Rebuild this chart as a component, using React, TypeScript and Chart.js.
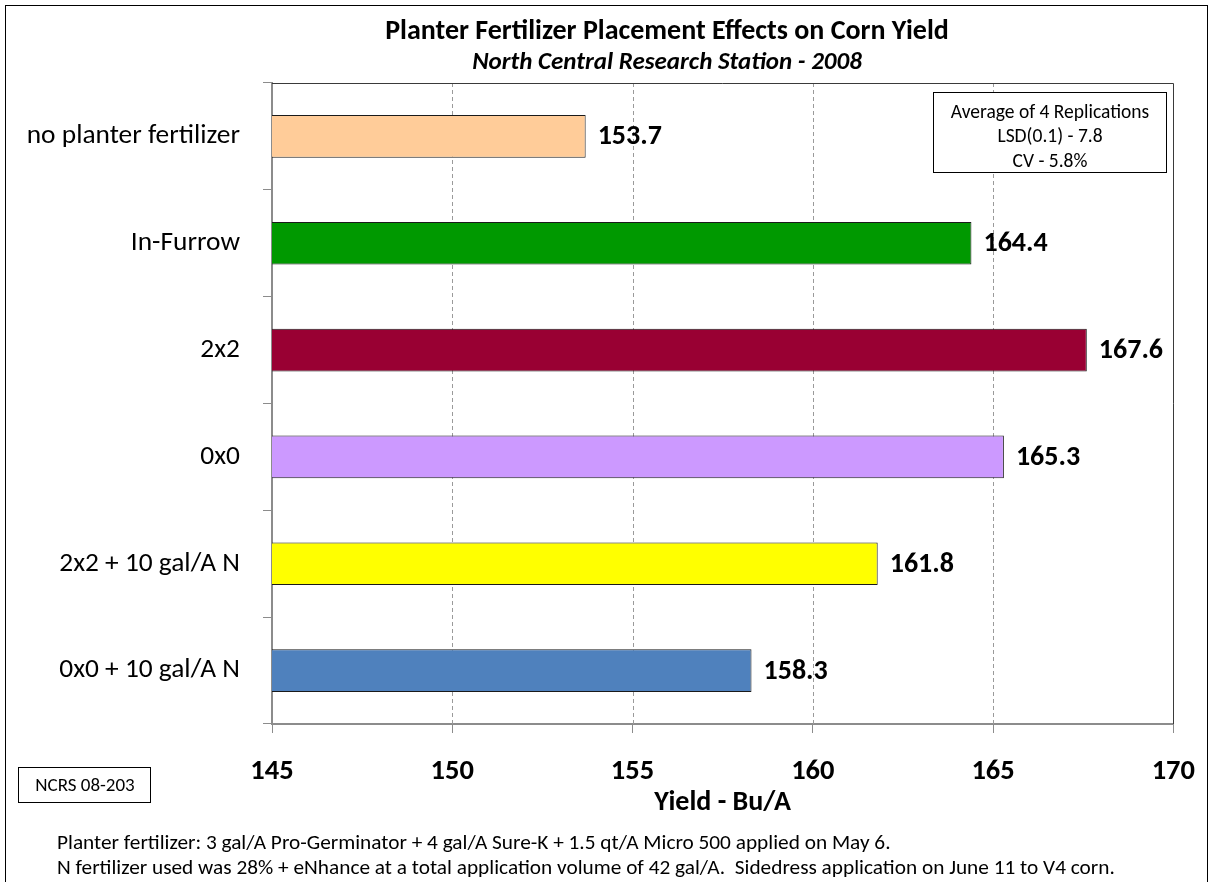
import React, { useEffect, useRef } from "react";
import { Chart, registerables } from "chart.js";

Chart.register(...registerables);

const categories = [
  "no planter fertilizer",
  "In-Furrow",
  "2x2",
  "0x0",
  "2x2 + 10 gal/A N",
  "0x0 + 10 gal/A N",
];
const yields = [153.7, 164.4, 167.6, 165.3, 161.8, 158.3];
const barColors = ["#FFCC99", "#009900", "#990033", "#CC99FF", "#FFFF00", "#4F81BD"];
const xTicks = [145, 150, 155, 160, 165, 170];

const titleText = "Planter Fertilizer Placement Effects on Corn Yield";
const subtitleText = "North Central Research Station - 2008";
const axisTitle = "Yield - Bu/A";
const statLines = ["Average of 4 Replications", "LSD(0.1) - 7.8", "CV - 5.8%"];
const idText = "NCRS 08-203";
const footnotes = [
  "Planter fertilizer: 3 gal/A Pro-Germinator + 4 gal/A Sure-K + 1.5 qt/A Micro 500 applied on May 6.",
  "N fertilizer used was 28% + eNhance at a total application volume of 42 gal/A.  Sidedress application on June 11 to V4 corn.",
];

const FONT = "Carlito, Lato, 'Liberation Sans', sans-serif";

const W = 1217;
const H = 882;

export default function App() {
  const ref = useRef<HTMLCanvasElement | null>(null);

  useEffect(() => {
    document.body.style.margin = "0";
    const canvas = ref.current;
    if (!canvas) return;

    const decorPlugin = {
      id: "decor",
      beforeDraw(chart: any) {
        const ctx = chart.ctx;
        ctx.save();
        ctx.fillStyle = "#ffffff";
        ctx.fillRect(0, 0, W, H);
        ctx.restore();
      },
      beforeDatasetsDraw(chart: any) {
        const ctx = chart.ctx;
        const { top, bottom, left, right } = chart.chartArea;
        const xs = chart.scales.x;
        ctx.save();
        ctx.strokeStyle = "#9a9a9a";
        ctx.lineWidth = 1;
        ctx.setLineDash([4, 3]);
        xTicks.forEach((v) => {
          if (v === 145 || v === 170) return;
          const px = Math.round(xs.getPixelForValue(v)) + 0.5;
          ctx.beginPath();
          ctx.moveTo(px, top);
          ctx.lineTo(px, bottom);
          ctx.stroke();
        });
        ctx.setLineDash([]);
        ctx.strokeStyle = "#3a3a3a";
        ctx.beginPath();
        ctx.moveTo(left, Math.round(top) + 0.5);
        ctx.lineTo(Math.round(right) + 0.5, Math.round(top) + 0.5);
        ctx.lineTo(Math.round(right) + 0.5, bottom);
        ctx.stroke();
        ctx.restore();
      },
      afterDatasetsDraw(chart: any) {
        const ctx = chart.ctx;
        const meta = chart.getDatasetMeta(0);
        ctx.save();
        ctx.fillStyle = "#000";
        ctx.font = `bold 28px ${FONT}`;
        ctx.textAlign = "left";
        ctx.textBaseline = "middle";
        meta.data.forEach((bar: any, i: number) => {
          ctx.fillText(yields[i].toFixed(1), bar.x + 12, bar.y + 1);
        });
        ctx.restore();
      },
      afterDraw(chart: any) {
        const ctx = chart.ctx;
        const { left, right } = chart.chartArea;
        ctx.save();
        ctx.strokeStyle = "#000";
        ctx.lineWidth = 1;
        ctx.strokeRect(5.5, 5.5, 1202, H + 10);

        ctx.fillStyle = "#000";
        ctx.textAlign = "center";
        ctx.textBaseline = "middle";
        ctx.font = `bold 28px ${FONT}`;
        ctx.fillText(titleText, 667, 32);
        ctx.font = `italic bold 25px ${FONT}`;
        ctx.fillText(subtitleText, 667, 63);

        ctx.font = `bold 28px ${FONT}`;
        ctx.fillText(axisTitle, (left + right) / 2, 803);

        ctx.fillStyle = "#fff";
        ctx.fillRect(933, 92, 233, 80);
        ctx.strokeStyle = "#000";
        ctx.strokeRect(933.5, 92.5, 233, 80);
        ctx.fillStyle = "#000";
        ctx.font = `19.5px ${FONT}`;
        statLines.forEach((t, i) => ctx.fillText(t, 1050, 113 + i * 24.5));

        ctx.strokeRect(18.5, 767.5, 132, 35);
        ctx.font = `19px ${FONT}`;
        ctx.fillText(idText, 85, 786);

        ctx.textAlign = "left";
        ctx.font = `21.3px ${FONT}`;
        footnotes.forEach((t, i) => ctx.fillText(t, 57, 844 + i * 25));
        ctx.restore();
      },
    };

    const chart = new Chart(canvas, {
      type: "bar",
      data: {
        labels: categories,
        datasets: [
          {
            data: yields,
            backgroundColor: barColors,
            borderColor: "#1a1a1a",
            borderWidth: 1,
            borderSkipped: false,
            barPercentage: 0.4,
            categoryPercentage: 1,
          },
        ],
      },
      options: {
        indexAxis: "y",
        animation: false,
        responsive: false,
        devicePixelRatio: 1,
        layout: { padding: { top: 83, right: 41, left: 0, bottom: 0 } },
        plugins: {
          legend: { display: false },
          title: { display: false },
          tooltip: { enabled: false },
        },
        scales: {
          x: {
            type: "linear",
            min: 145,
            max: 170,
            afterBuildTicks: (scale: any) => {
              scale.ticks = xTicks.map((v) => ({ value: v }));
            },
            afterFit: (scale: any) => {
              scale.height = H - 724;
            },
            ticks: {
              color: "#000",
              font: { family: FONT, size: 28.5, weight: "bold" },
              padding: 22,
              maxRotation: 0,
            },
            grid: {
              drawOnChartArea: false,
              drawTicks: true,
              tickLength: 9,
              color: "#8c8c8c",
            },
            border: { color: "#8c8c8c", width: 2 },
          },
          y: {
            type: "category",
            afterFit: (scale: any) => {
              scale.width = 272;
            },
            ticks: {
              color: "#000",
              font: { family: FONT, size: 27.4 },
              padding: 23,
            },
            grid: {
              drawOnChartArea: false,
              drawTicks: true,
              tickLength: 9,
              offset: true,
              color: "#8c8c8c",
            },
            border: { color: "#8c8c8c", width: 2 },
          },
        },
      },
      plugins: [decorPlugin],
    } as any);

    return () => chart.destroy();
  }, []);

  return (
    <div style={{ position: "absolute", left: 0, top: 0, width: W, height: H }}>
      <canvas ref={ref} width={W} height={H} style={{ width: W, height: H }} />
    </div>
  );
}
